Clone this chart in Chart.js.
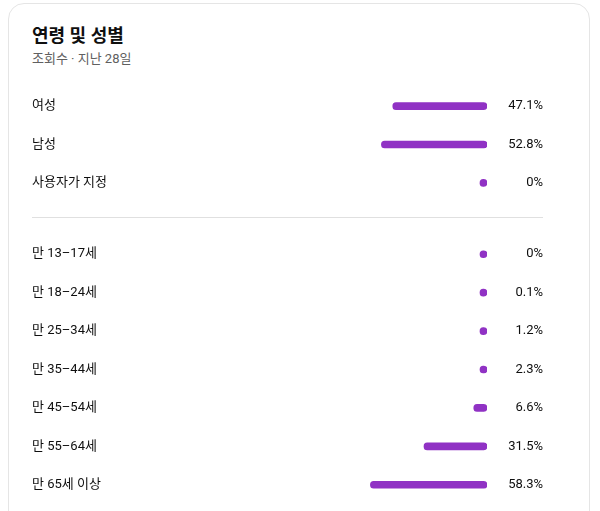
<!DOCTYPE html>
<html lang="ko">
<head>
<meta charset="utf-8">
<script src="https://cdn.jsdelivr.net/npm/chart.js@4/dist/chart.umd.min.js"></script>
<style>
  html, body { margin: 0; padding: 0; background: #ffffff; width: 600px; height: 511px; overflow: hidden; }
  body { position: relative; font-family: Roboto, "Noto Sans CJK KR", sans-serif; }
  .card { position: absolute; left: 8px; top: 3px; width: 580px; height: 640px; border: 1px solid #e5e5e5; border-radius: 16px; background: #fff; }
  .title { position: absolute; left: 32px; top: 23px; font-size: 18px; font-weight: 700; color: #0f0f0f; line-height: 26px; }
  .sub { position: absolute; left: 32px; top: 50px; font-size: 13px; color: #606060; line-height: 18px; }
  .divider { position: absolute; left: 32px; top: 217px; width: 511px; height: 1px; background: #e0e0e0; }
  .wrap { position: absolute; left: 32px; width: 511px; }
</style>
</head>
<body>
<div class="card"></div>
<div class="title">연령 및 성별</div>
<div class="sub">조회수 · 지난 28일</div>
<div class="wrap" style="top:87px;height:115px"><canvas id="gender" width="511" height="115"></canvas></div>
<div class="divider"></div>
<div class="wrap" style="top:235px;height:269px"><canvas id="age" width="511" height="269"></canvas></div>
<script>
const genderCategories = ['여성', '남성', '사용자가 지정'];
const genderValues = [47.1, 52.8, 0];
const ageCategories = ['만 13–17세', '만 18–24세', '만 25–34세', '만 35–44세', '만 45–54세', '만 55–64세', '만 65세 이상'];
const ageValues = [0, 0.1, 1.2, 2.3, 6.6, 31.5, 58.3];

const BAR_COLOR = '#9032c4';
const FONT = { family: 'Roboto, "Noto Sans CJK KR", sans-serif', size: 13 };

function noPad(s) { s.paddingTop = 0; s.paddingBottom = 0; s.paddingLeft = 0; s.paddingRight = 0; }

function makeChart(id, cats, vals) {
  const pctLabels = vals.map(v => v + '%');
  return new Chart(document.getElementById(id), {
    type: 'bar',
    data: {
      labels: cats,
      datasets: [{
        data: vals,
        backgroundColor: BAR_COLOR,
        barThickness: 7,
        borderRadius: 3.5,
        borderSkipped: false,
        minBarLength: 7,
        base: -0.0001
      }]
    },
    options: {
      indexAxis: 'y',
      responsive: false,
      animation: false,
      layout: { padding: 0 },
      plugins: { legend: { display: false }, tooltip: { enabled: false } },
      scales: {
        x: { display: false, reverse: true, min: 0, max: 227.5 },
        y: {
          position: 'left',
          grid: { display: false, drawTicks: false },
          border: { display: false },
          ticks: { mirror: true, padding: 0, crossAlign: 'near', color: '#0f0f0f', font: FONT },
          afterFit: s => { s.width = 0; noPad(s); }
        },
        y2: {
          type: 'category',
          position: 'right',
          labels: pctLabels,
          offset: true,
          grid: { display: false, drawTicks: false },
          border: { display: false },
          ticks: { padding: 0, crossAlign: 'far', color: '#0f0f0f', font: FONT },
          afterFit: s => { s.width = 56; noPad(s); }
        }
      }
    }
  });
}
makeChart('gender', genderCategories, genderValues);
makeChart('age', ageCategories, ageValues);
</script>
</body>
</html>
